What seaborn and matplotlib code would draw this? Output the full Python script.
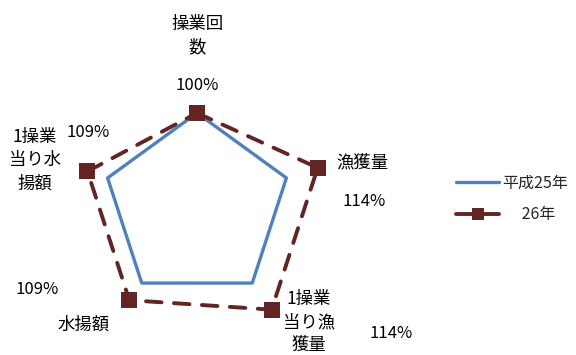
import numpy as np
import pandas as pd
import matplotlib
matplotlib.use("Agg")
import matplotlib.pyplot as plt
import seaborn as sns

# Radar chart: fishing results, 平成26年 relative to 平成25年 (=100%)
categories = ["操業回数", "漁獲量", "1操業当り漁獲量", "水揚額", "1操業当り水揚額"]
series_names = ["平成25年", "\u3000 26年"]
values_h25 = [1.00, 1.00, 1.00, 1.00, 1.00]
values_h26 = [1.00, 1.14, 1.14, 1.09, 1.09]

sns.set_style("white")
plt.rcParams["font.family"] = ["Noto Sans CJK JP", "DejaVu Sans"]

W, H = 576, 355
fig = plt.figure(figsize=(W / 100, H / 100), dpi=100)

# polar axes positioned so the centre sits left of the legend
cx, cy, rad = 197, 207, 141
ax = fig.add_axes([(cx - rad) / W, 1 - (cy + rad) / H, 2 * rad / W, 2 * rad / H],
                  projection="polar")
ax.set_theta_zero_location("N")
ax.set_theta_direction(-1)

n = len(categories)
theta = np.linspace(0, 2 * np.pi, n, endpoint=False)
theta_closed = np.append(theta, 2 * np.pi)

df25 = pd.DataFrame({"theta": theta_closed, "r": values_h25 + values_h25[:1]})
df26 = pd.DataFrame({"theta": theta_closed, "r": values_h26 + values_h26[:1]})

blue = "#4F81BD"
dark_red = "#632523"

sns.lineplot(data=df25, x="theta", y="r", ax=ax, sort=False, estimator=None,
             color=blue, linewidth=2.4, label=series_names[0], legend=False)
sns.lineplot(data=df26, x="theta", y="r", ax=ax, sort=False, estimator=None,
             color=dark_red, linewidth=2.8, marker="s", markersize=11,
             markeredgewidth=0, label=series_names[1], legend=False)
line26 = ax.lines[-1]
line26.set_dashes([4, 3.2])
line26.set_dash_capstyle("round")

ax.set_ylim(0.6, 1.2)
ax.set_axis_off()


def wrap3(s):
    return "\n".join(s[i:i + 3] for i in range(0, len(s), 3))


def px(x, y):
    return x / W, 1 - y / H


# category label and value label positions (pixels)
cat_pos = [(197, 36), (362, 162), (309, 322), (84, 325), (35, 160)]
val_pos = [(197, 86), (364, 202), (391, 333), (37, 289), (88, 133)]

for name, (x, y) in zip(categories, cat_pos):
    fig.text(*px(x, y), wrap3(name), ha="center", va="center",
             fontsize=12.5, linespacing=1.38, color="#000000")
for v, (x, y) in zip(values_h26, val_pos):
    fig.text(*px(x, y), f"{v:.0%}", ha="center", va="center",
             fontsize=12, color="#000000")

handles = [ax.lines[0], line26]
fig.legend(handles, series_names, loc="center left",
           bbox_to_anchor=(456 / W, 1 - 199 / H), frameon=False,
           fontsize=11.5, handlelength=2.7, handletextpad=0.2,
           labelspacing=0.9, borderpad=0, borderaxespad=0, markerscale=0.8)

fig.savefig("out.png", dpi=100)
